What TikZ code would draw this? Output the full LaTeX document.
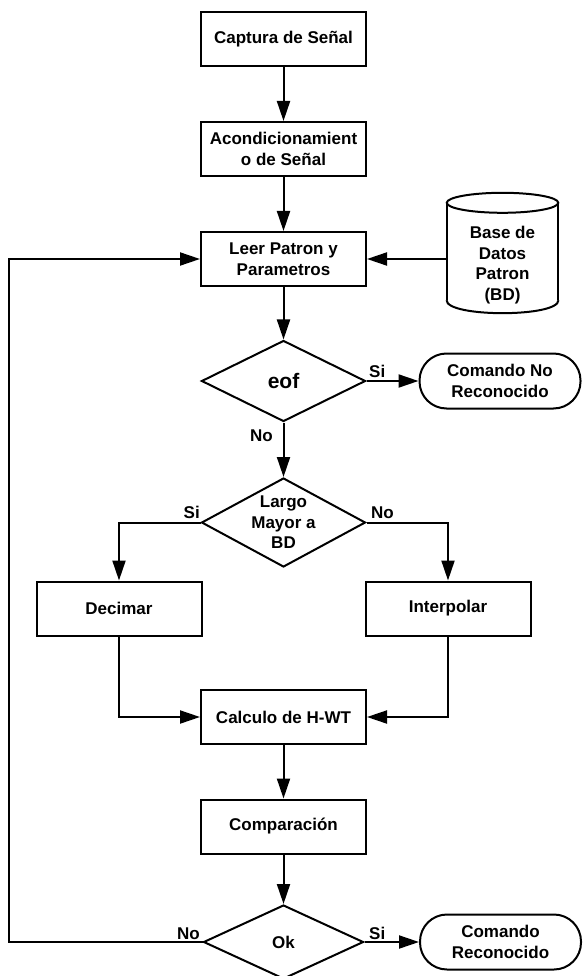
\documentclass[tikz,border=0pt]{standalone}
\usepackage{fontspec}
\setmainfont{Liberation Sans}
\usetikzlibrary{shapes.geometric,arrows.meta}
\begin{document}
\begin{tikzpicture}[x=1pt,y=-1pt,
  txt/.style={font=\fontsize{17}{20.5}\selectfont\bfseries, align=center, inner sep=0pt},
  procbox/.style={draw, line width=2pt, minimum width=165pt, minimum height=54pt, txt},
  term/.style={draw, line width=2pt, rounded corners=27pt, minimum width=161pt, minimum height=55pt, txt},
  decis/.style={draw, diamond, line width=2pt, inner sep=0pt},
  conn/.style={line width=2pt, -{Triangle[length=20pt,width=13pt]}},
  lbl/.style={font=\fontsize{17}{20}\selectfont\bfseries, inner sep=0pt}
]
\path[use as bounding box] (0,0) rectangle (582,976);

% nodes
\node[procbox] (cap) at (283.5,39.5) {Captura de Señal};
\node[procbox] (acond) at (283.5,149) {Acondicionamient\\o de Señal};
\node[procbox] (leer) at (283.5,259) {Leer Patron y\\Parametros};

% database cylinder
\node[minimum width=111.5pt, minimum height=97pt, inner sep=0pt] (bd) at (502.5,251.5) {};
\draw[line width=2pt] (bd.north) ellipse [x radius=55.75pt, y radius=10pt];
\draw[line width=2pt] (bd.north west) -- (bd.south west);
\draw[line width=2pt] (bd.north east) -- (bd.south east);
\draw[line width=2pt] (bd.south west) .. controls +(0,17.3) and +(0,17.3) .. (bd.south east);
\node[txt] (bdt) at (502.5,265) {Base de\\Datos\\Patron\\(BD)};

\node[decis, minimum width=164pt, minimum height=81pt] (eof) at (283.5,381) {};
\node[txt, font=\fontsize{21}{24}\selectfont\bfseries] (eoft) at (283.5,381) {eof};
\node[term] (cnr) at (500,381) {Comando No\\Reconocido};

\node[decis, minimum width=164pt, minimum height=89pt] (largo) at (283.5,522.5) {};
\node[txt] (largot) at (283.5,522.5) {Largo\\Mayor a\\BD};

\node[procbox] (dec) at (119,608.5) {Decimar};
\node[procbox] (interp) at (448,608.5) {Interpolar};
\node[procbox] (calc) at (283.5,717) {Calculo de H-WT};
\node[procbox] (comp) at (283.5,826.5) {Comparación};

\node[decis, minimum width=160pt, minimum height=74pt] (ok) at (283.5,942) {};
\node[txt] (okt) at (283.5,942) {Ok};
\node[term] (cr) at (500.5,942) {Comando\\Reconocido};

\coordinate (loopb) at (8.5,942);
\coordinate (loopt) at (8.5,259);

% connectors
\draw[conn] (cap) -- (acond);
\draw[conn] (acond) -- (leer);
\draw[conn] (bd.west |- leer) -- (leer.east);
\draw[conn] (leer) -- (eof);
\draw[conn] (eof) -- (cnr);
\draw[conn] (eof) -- (largo);
\draw[conn] (largo.west) -| (dec.north);
\draw[conn] (largo.east) -| (interp.north);
\draw[conn] (dec.south) |- (calc.west);
\draw[conn] (interp.south) |- (calc.east);
\draw[conn] (calc) -- (comp);
\draw[conn] (comp) -- (ok);
\draw[conn] (ok) -- (cr);
\draw[conn] (ok.west) -- (loopb) -- (loopt) -- (leer.west);

% labels
\node[lbl, anchor=base west] (l1) at (369,377) {Si};
\node[lbl, anchor=base east] (l2) at (273,441.5) {No};
\node[lbl, anchor=base east] (l3) at (200,518.5) {Si};
\node[lbl, anchor=base west] (l4) at (371,518.5) {No};
\node[lbl, anchor=base east] (l5) at (200,939.5) {No};
\node[lbl, anchor=base west] (l6) at (369,939.5) {Si};
\end{tikzpicture}
\end{document}
